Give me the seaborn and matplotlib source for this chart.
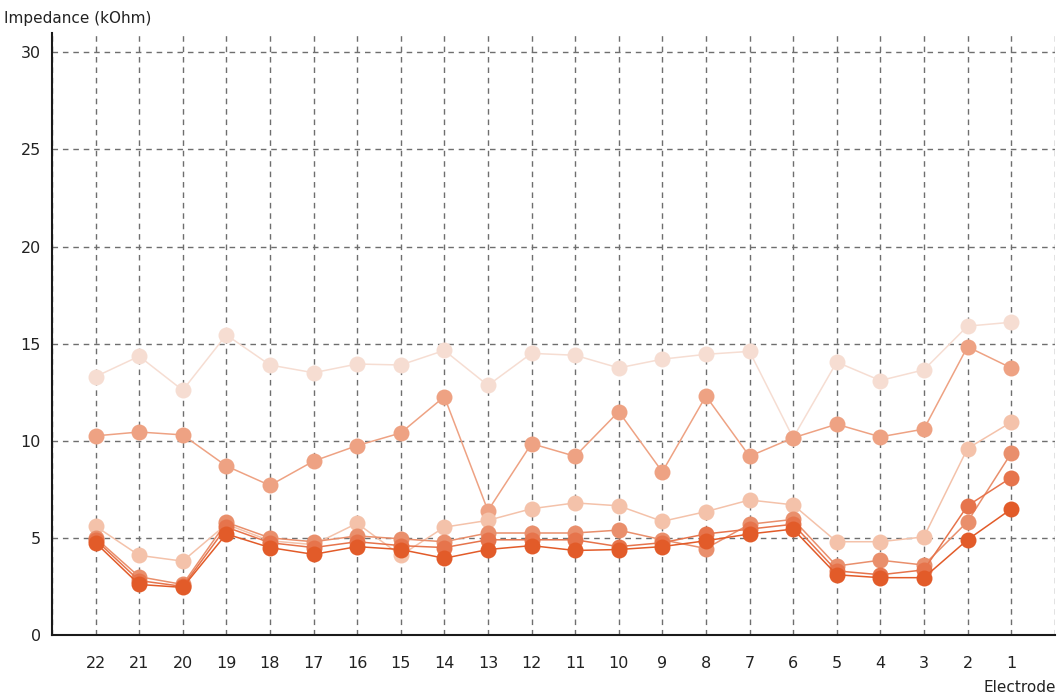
import matplotlib
matplotlib.use("Agg")
import matplotlib.pyplot as plt
import numpy as np
import pandas as pd
import seaborn as sns

# Electrode order as shown on the axis (22 on the left, 1 on the right)
electrodes = [22, 21, 20, 19, 18, 17, 16, 15, 14, 13, 12, 11, 10, 9, 8, 7, 6, 5, 4, 3, 2, 1]

# Impedance measurements (kOhm), one list per session, oldest first
session_1 = [13.3, 14.35, 12.6, 15.45, 13.9, 13.5, 13.95, 13.9, 14.65, 12.85, 14.5, 14.4,
             13.75, 14.2, 14.45, 14.6, 10.15, 14.05, 13.1, 13.65, 15.9, 16.1]
session_2 = [10.25, 10.45, 10.3, 8.7, 7.7, 8.95, 9.75, 10.4, 12.27, 6.4, 9.85, 9.2,
             11.5, 8.4, 12.3, 9.2, 10.15, 10.85, 10.2, 10.6, 14.84, 13.75]
session_3 = [5.6, 4.1, 3.8, 5.7, 4.85, 4.65, 5.75, 4.1, 5.55, 5.9, 6.5, 6.8,
             6.65, 5.85, 6.35, 6.95, 6.7, 4.8, 4.8, 5.05, 9.6, 10.95]
session_4 = [5.0, 3.0, 2.6, 5.8, 5.0, 4.8, 5.1, 4.95, 4.8, 5.25, 5.25, 5.25,
             5.4, 4.9, 4.45, 5.7, 5.95, 3.55, 3.85, 3.6, 5.83, 9.35]
session_5 = [4.9, 2.8, 2.5, 5.55, 4.75, 4.5, 4.8, 4.6, 4.5, 4.9, 4.9, 4.9,
             4.55, 4.75, 5.2, 5.45, 5.7, 3.3, 3.1, 3.35, 6.65, 8.1]
session_6 = [4.75, 2.6, 2.45, 5.2, 4.5, 4.15, 4.55, 4.4, 3.95, 4.4, 4.6, 4.35,
             4.4, 4.55, 4.85, 5.2, 5.45, 3.1, 2.95, 2.95, 4.9, 6.48]

sessions = [session_1, session_2, session_3, session_4, session_5, session_6]
session_names = ["S1", "S2", "S3", "S4", "S5", "S6"]
session_colors = ["#f6ddd2", "#eea283", "#f4c2aa", "#e98f6c", "#e6744c", "#e25b29"]

y_ticks = [0, 5, 10, 15, 20, 25, 30]

positions = np.arange(len(electrodes))
frames = []
for name, vals in zip(session_names, sessions):
    frames.append(pd.DataFrame({"pos": positions, "value": vals, "session": name}))
df = pd.concat(frames, ignore_index=True)

sns.set_style("white")
plt.rcParams["font.family"] = ["DejaVu Sans"]

fig = plt.figure(figsize=(10.6, 6.99), dpi=100)
ax = fig.add_axes([0.049, 0.0916, 0.946, 0.8614])

sns.lineplot(data=df, x="pos", y="value", hue="session", hue_order=session_names,
             palette=dict(zip(session_names, session_colors)), marker="o",
             markersize=11.5, markeredgewidth=0, linewidth=1.1, sort=False,
             legend=False, ax=ax, zorder=3)

ax.set_xlim(-1, len(electrodes))
ax.set_ylim(0, 31)

ax.set_xticks(np.arange(-1, len(electrodes) + 1))
ax.set_xticklabels([""] + [str(e) for e in electrodes] + [""])
ax.set_yticks(y_ticks)
ax.set_yticklabels([str(t) for t in y_ticks])

ax.grid(True, which="major", color="#6e6e6e", linestyle=(0, (4, 3.5)), linewidth=1.0)
ax.set_axisbelow(True)

for side in ("top", "right"):
    ax.spines[side].set_visible(False)
for side in ("left", "bottom"):
    ax.spines[side].set_color("#1a1a1a")
    ax.spines[side].set_linewidth(1.5)

ax.tick_params(axis="both", direction="inout", length=12, width=1.3, color="#1a1a1a",
               labelsize=11.5, labelcolor="#222222")
ax.tick_params(axis="x", pad=9)
ax.tick_params(axis="y", pad=2)
for t in ax.xaxis.get_major_ticks():
    t.tick1line.set_clip_on(False)

ax.set_xlabel("")
ax.set_ylabel("")
fig.text(0.004, 0.974, "Impedance (kOhm)", fontsize=11, color="#222222", va="center", ha="left")
fig.text(0.996, 0.016, "Electrode", fontsize=11, color="#222222", va="center", ha="right")

fig.savefig("out.png", dpi=100)
